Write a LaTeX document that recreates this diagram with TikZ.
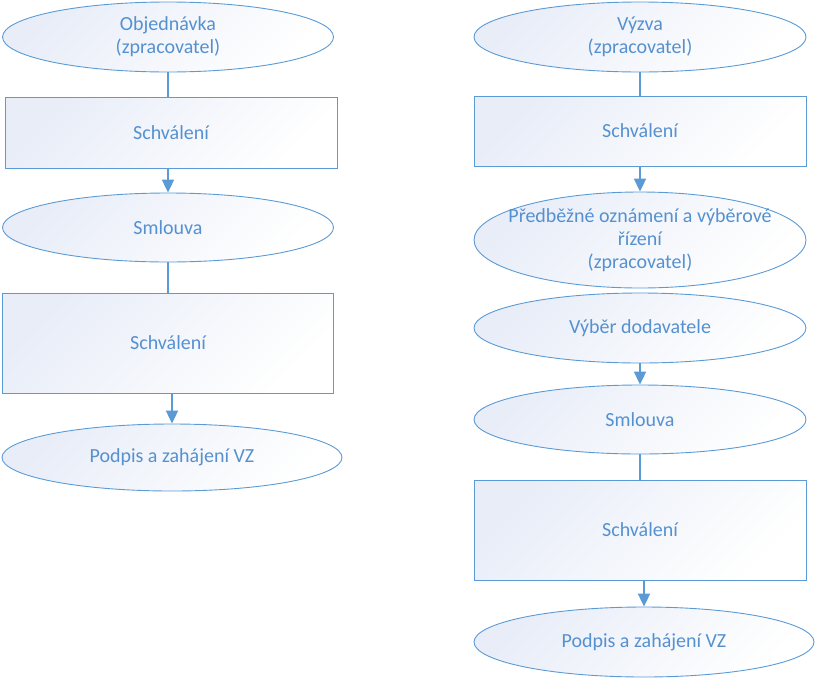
\documentclass[tikz,border=0pt]{standalone}
\usepackage{fontspec}
\setmainfont{Carlito}
\usetikzlibrary{shapes.geometric,arrows.meta}
\definecolor{ob}{HTML}{5B9BD5}
\definecolor{tb}{HTML}{5591D0}
\definecolor{gb}{HTML}{E8EDF8}
\tikzset{
  base/.style={draw=ob, line width=0.9pt, text=tb, align=center, inner sep=0pt,
    font=\fontsize{20}{23}\selectfont,
    top color=gb, bottom color=white, shading angle=45},
  oval/.style={base, ellipse},
  box/.style={base, rectangle},
  txt/.style={text=tb, align=center, inner sep=0pt, font=\fontsize{20}{23}\selectfont},
  conn/.style={draw=ob, line width=2pt},
  arr/.style={conn, -{Triangle[width=12pt,length=13pt]}},
}
\begin{document}
\begin{tikzpicture}[x=1pt,y=-1pt]
\useasboundingbox (0,0) rectangle (816,678);
% left column
\node[oval, minimum width=331pt, minimum height=70pt] (e1) at (168,37) {Objednávka\\(zpracovatel)};
\node[box, minimum width=332pt, minimum height=71pt] (r1) at (171,132.5) {Schválení};
\node[oval, minimum width=331pt, minimum height=69pt] (e2) at (168,227.5) {Smlouva};
\node[box, minimum width=331pt, minimum height=100pt] (r2) at (168,343) {Schválení};
\node[oval, minimum width=340pt, minimum height=67pt] (e3) at (172,457.5) {Podpis a zahájení VZ};
% right column
\node[oval, minimum width=332pt, minimum height=70pt] (e4) at (640,37) {Výzva\\(zpracovatel)};
\node[box, minimum width=332pt, minimum height=70pt] (r3) at (640,131) {Schválení};
\node[oval, minimum width=332pt, minimum height=96pt] (e5) at (640,240) {};
\node[txt] (e5t) at (e5.center) {Předběžné oznámení a výběrové\\řízení\\(zpracovatel)};
\node[oval, minimum width=332pt, minimum height=70pt] (e6) at (640,328) {Výběr dodavatele};
\node[oval, minimum width=332pt, minimum height=69pt] (e7) at (640,419.5) {Smlouva};
\node[box, minimum width=332pt, minimum height=100pt] (r4) at (640,530) {Schválení};
\node[oval, minimum width=340pt, minimum height=70pt] (e8) at (644,642) {Podpis a zahájení VZ};
% connectors left
\draw[conn] (e1.south) -- (e1.south |- r1.north);
\draw[arr] (r1.south -| e2.north) -- (e2.north);
\draw[conn] (e2.south) -- (e2.south |- r2.north);
\draw[arr] (r2.south -| e3.north) -- (e3.north);
% connectors right
\draw[conn] (e4.south) -- (e4.south |- r3.north);
\draw[arr] (r3.south) -- (e5.north);
\draw[arr] (e6.south) -- (e7.north);
\draw[conn] (e7.south) -- (e7.south |- r4.north);
\draw[arr] (r4.south -| e8.north) -- (e8.north);
\end{tikzpicture}
\end{document}
